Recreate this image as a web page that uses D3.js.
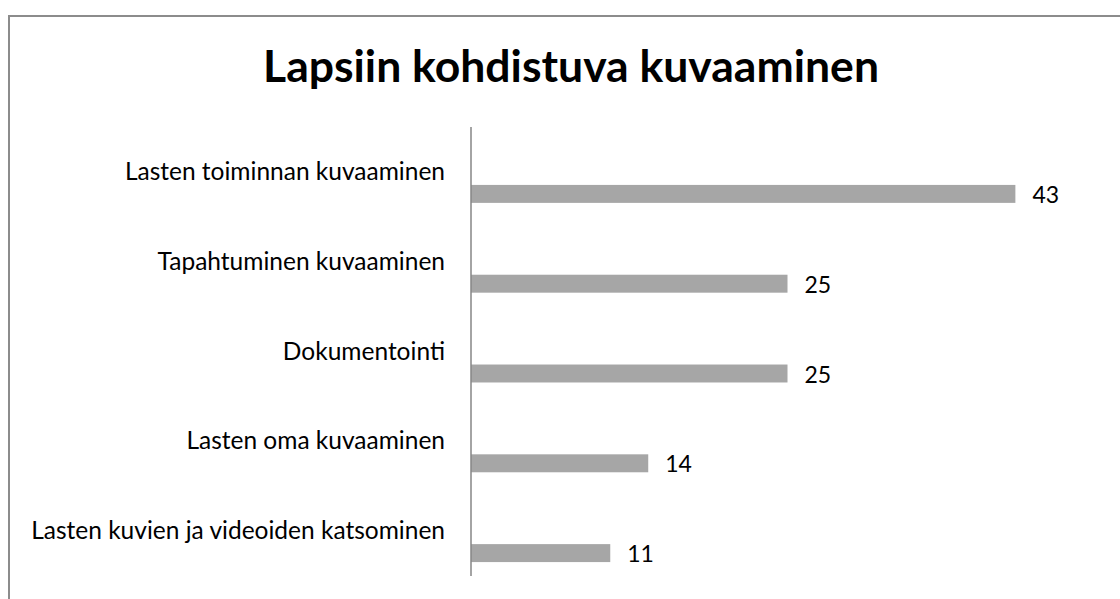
<!DOCTYPE html>
<meta charset="utf-8">
<style>
body { margin: 0; background: #fff; }
text { font-family: Lato, "Open Sans", sans-serif; fill: #000; }
</style>
<body>
<script src="https://cdn.jsdelivr.net/npm/d3@7"></script>
<script>
var categories = ["Lasten toiminnan kuvaaminen", "Tapahtuminen kuvaaminen", "Dokumentointi",
                  "Lasten oma kuvaaminen", "Lasten kuvien ja videoiden katsominen"];
var values = [43, 25, 25, 14, 11];
var title = "Lapsiin kohdistuva kuvaaminen";

var width = 1120, height = 599;
var svg = d3.select("body").append("svg")
    .attr("width", width)
    .attr("height", height);

// chart area frame (cut off at right and bottom)
svg.append("rect")
    .attr("x", 9).attr("y", 16)
    .attr("width", 1200).attr("height", 700)
    .attr("fill", "#fff")
    .attr("stroke", "#8c8c8c")
    .attr("stroke-width", 2);

svg.append("text")
    .attr("x", 571).attr("y", 82)
    .attr("text-anchor", "middle")
    .style("font-weight", "bold")
    .style("font-size", "44.5px")
    .text(title);

var x = d3.scaleLinear().domain([0, 50]).range([471, 1104]);
var y = d3.scaleBand().domain(categories).range([127, 576]);

var data = categories.map(function(c, i) { return {cat: c, val: values[i]}; });

svg.selectAll(".bar")
    .data(data)
  .enter().append("rect")
    .attr("class", "bar")
    .attr("x", x(0))
    .attr("y", function(d) { return y(d.cat) + y.bandwidth() * 0.645; })
    .attr("width", function(d) { return x(d.val) - x(0); })
    .attr("height", y.bandwidth() * 0.2)
    .attr("fill", "#a6a6a6");

svg.selectAll(".val")
    .data(data)
  .enter().append("text")
    .attr("class", "val")
    .attr("x", function(d) { return x(d.val) + 17; })
    .attr("y", function(d) { return y(d.cat) + y.bandwidth() * 0.745 + 9; })
    .style("font-size", "23px")
    .text(function(d) { return d.val; });

svg.selectAll(".cat")
    .data(categories)
  .enter().append("text")
    .attr("class", "cat")
    .attr("x", 445)
    .attr("y", function(d) { return y(d) + 53; })
    .attr("text-anchor", "end")
    .style("font-size", "24.5px")
    .text(function(d) { return d; });

// vertical category axis
svg.append("line")
    .attr("x1", x(0)).attr("x2", x(0))
    .attr("y1", 127).attr("y2", 576)
    .attr("stroke", "#868686")
    .attr("stroke-width", 1.5);
</script>
